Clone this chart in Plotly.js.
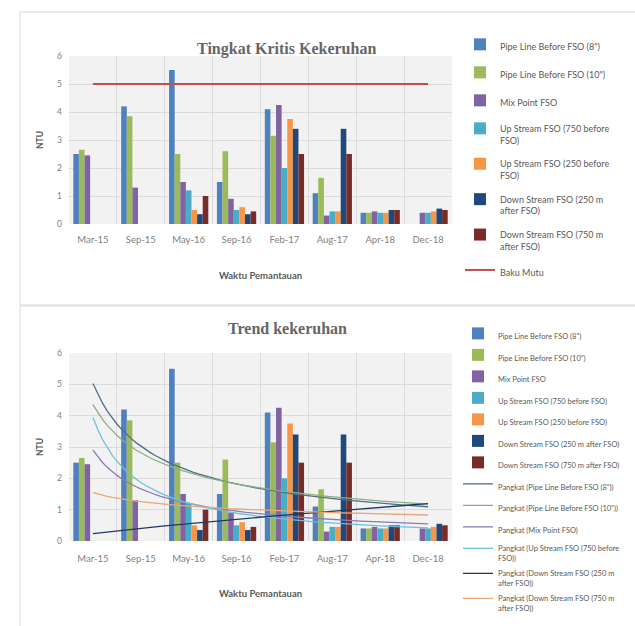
<!DOCTYPE html>
<html>
<head>
<meta charset="utf-8">
<script src="https://cdn.plot.ly/plotly-3.0.1.min.js"></script>
<style>html,body{margin:0;padding:0;background:#fff;}#chart{width:635px;height:626px;}</style>
</head>
<body>
<div id="chart"></div>
<script>
// ---- data ----
const categories = ['Mar-15','Sep-15','May-16','Sep-16','Feb-17','Aug-17','Apr-18','Dec-18'];
const pipe8   = [2.5, 4.2, 5.5, 1.5, 4.1, 1.1, 0.4, null];
const pipe10  = [2.65, 3.85, 2.5, 2.6, 3.15, 1.65, 0.4, null];
const mixPoint= [2.45, 1.3, 1.5, 0.9, 4.25, 0.3, 0.45, 0.4];
const up750   = [null, null, 1.2, 0.5, 2.0, 0.45, 0.4, 0.4];
const up250   = [null, null, 0.5, 0.6, 3.75, 0.45, 0.4, 0.45];
const down250 = [null, null, 0.35, 0.35, 3.4, 3.4, 0.5, 0.55];
const down750 = [null, null, 1.0, 0.45, 2.5, 2.5, 0.5, 0.5];
const bakuMutu= [5, 5, 5, 5, 5, 5, 5, 5];
const yTicks  = [0, 1, 2, 3, 4, 5, 6];

const seriesNames = ['Pipe Line Before FSO (8")','Pipe Line Before FSO (10")','Mix Point FSO',
  'Up Stream FSO (750 before FSO)','Up Stream FSO (250 before FSO)',
  'Down Stream FSO (250 m after FSO)','Down Stream FSO (750 m after FSO)'];
const topLegendNames = ['Pipe Line Before FSO (8")','Pipe Line Before FSO (10")','Mix Point FSO',
  'Up Stream FSO (750 before<br>FSO)','Up Stream FSO (250 before<br>FSO)',
  'Down Stream FSO (250 m<br>after FSO)','Down Stream FSO (750 m<br>after FSO)'];
const seriesData = [pipe8, pipe10, mixPoint, up750, up250, down250, down750];
const seriesColors = ['#4F81BD','#9BBB59','#8064A2','#4BACC6','#F79646','#1F497D','#772C2A'];

// trendlines (power fits, as in the spreadsheet) for these series
const trendSeries = [0, 1, 2, 3, 5, 6];
const trendNames = ['Pangkat (Pipe Line Before FSO (8"))','Pangkat (Pipe Line Before FSO (10"))',
  'Pangkat (Mix Point FSO)','Pangkat (Up Stream FSO (750 before<br>FSO))',
  'Pangkat (Down Stream FSO (250 m<br>after FSO))','Pangkat (Down Stream FSO (750 m<br>after FSO))'];
const trendColors = ['#4E6E8A','#8DAF7E','#8A7BB4','#6EC0DA','#1F3A60','#E8A878'];

function powerFit(vals){
  let xs=[],ys=[];
  vals.forEach((v,i)=>{ if(v!==null && v>0){ xs.push(Math.log(i+1)); ys.push(Math.log(v)); }});
  const n=xs.length, mx=xs.reduce((a,b)=>a+b,0)/n, my=ys.reduce((a,b)=>a+b,0)/n;
  let sxy=0,sxx=0; for(let i=0;i<n;i++){ sxy+=(xs[i]-mx)*(ys[i]-my); sxx+=(xs[i]-mx)**2; }
  const b=sxy/sxx, a=Math.exp(my-b*mx);
  const px=[],py=[]; for(let k=0;k<=70;k++){ const x=1+k*0.1; px.push(x); py.push(a*Math.pow(x,b)); }
  return {px,py};
}

const W=635,H=626;
const px=v=>v/W, py=v=>1-v/H;
const txt='#595959', tick='#7f7f7f', grid='#dadada', bg='#f2f2f2';
const sans='Lato, "Open Sans", sans-serif';

const traces=[];
seriesData.forEach((d,i)=>{
  traces.push({type:'bar',x:categories,y:d,name:topLegendNames[i],marker:{color:seriesColors[i]},
    xaxis:'x',yaxis:'y',legend:'legend',legendgroup:'t'+i});
});
traces.push({type:'scatter',mode:'lines',x:categories,y:bakuMutu,name:'Baku Mutu',
  line:{color:'#C0504D',width:2},xaxis:'x',yaxis:'y',legend:'legend',legendgroup:'t7'});
seriesData.forEach((d,i)=>{
  traces.push({type:'bar',x:categories,y:d,name:seriesNames[i],marker:{color:seriesColors[i]},
    xaxis:'x2',yaxis:'y2',legend:'legend2',legendgroup:'b'+i});
});
trendSeries.forEach((si,k)=>{
  const f=powerFit(seriesData[si]);
  traces.push({type:'scatter',mode:'lines',x:f.px,y:f.py,name:trendNames[k],
    line:{color:trendColors[k],width:1.3},xaxis:'x3',yaxis:'y2',legend:'legend2',legendgroup:'bt'+k});
});

const xCommon={type:'category',tickson:'boundaries',showgrid:true,gridcolor:grid,ticks:'',
  showline:false,zeroline:false,range:[-0.5,7.5],tickfont:{family:sans,size:9.5,color:tick},fixedrange:true};
const yCommon={range:[0,6],tickvals:yTicks,showgrid:true,gridcolor:grid,zeroline:false,ticks:'',
  showline:false,tickfont:{family:sans,size:8.5,color:tick},ticklabelstandoff:6,fixedrange:true};

const layout={
  width:W,height:H,margin:{l:0,r:0,t:0,b:0},paper_bgcolor:'#fff',plot_bgcolor:bg,
  barmode:'group',bargap:0.18,bargroupgap:0,showlegend:true,hovermode:false,
  xaxis:Object.assign({},xCommon,{domain:[px(69),px(452)],anchor:'y',ticklabelstandoff:8,
    title:{text:'Waktu Pemantauan',font:{family:sans,size:9.5,color:txt,weight:'bold'},standoff:28}}),
  yaxis:Object.assign({},yCommon,{domain:[py(224),py(56)],anchor:'x',
    title:{text:'NTU',font:{family:sans,size:8.5,color:txt,weight:'bold'},standoff:12}}),
  xaxis2:Object.assign({},xCommon,{domain:[px(69),px(452)],anchor:'y2',ticklabelstandoff:10,
    title:{text:'Waktu Pemantauan',font:{family:sans,size:9.5,color:txt,weight:'bold'},standoff:27}}),
  yaxis2:Object.assign({},yCommon,{domain:[py(541),py(353)],anchor:'x2',
    title:{text:'NTU',font:{family:sans,size:8.5,color:txt,weight:'bold'},standoff:12}}),
  xaxis3:{overlaying:'x2',anchor:'y2',range:[0.5,8.5],visible:false,fixedrange:true},
  legend:{x:px(460),y:py(32),xanchor:'left',yanchor:'top',bgcolor:'rgba(0,0,0,0)',valign:'top',
    font:{family:sans,size:9,color:txt},tracegroupgap:9,itemwidth:30,traceorder:'grouped'},
  legend2:{x:px(458),y:py(322),xanchor:'left',yanchor:'top',bgcolor:'rgba(0,0,0,0)',valign:'top',
    font:{family:sans,size:7.5,color:txt},tracegroupgap:2.5,itemwidth:30,traceorder:'grouped'},
  annotations:[
    {text:'Tingkat Kritis Kekeruhan',x:px(286),y:py(38),xref:'paper',yref:'paper',showarrow:false,
      font:{family:'"Liberation Serif", "DejaVu Serif", serif',size:16,color:'#666666',weight:'bold'}},
    {text:'Trend kekeruhan',x:px(287),y:py(328),xref:'paper',yref:'paper',showarrow:false,
      font:{family:'"Liberation Serif", "DejaVu Serif", serif',size:16,color:'#666666',weight:'bold'}}
  ],
  shapes:[
    {type:'rect',xref:'paper',yref:'paper',x0:px(20),x1:1.02,y0:py(305),y1:py(12),line:{color:'#d9d9d9',width:1}},
    {type:'rect',xref:'paper',yref:'paper',x0:px(20),x1:1.02,y0:-0.02,y1:py(306),line:{color:'#d9d9d9',width:1}}
  ]
};
Plotly.newPlot('chart',traces,layout,{displayModeBar:false,staticPlot:true});
</script>
</body>
</html>
